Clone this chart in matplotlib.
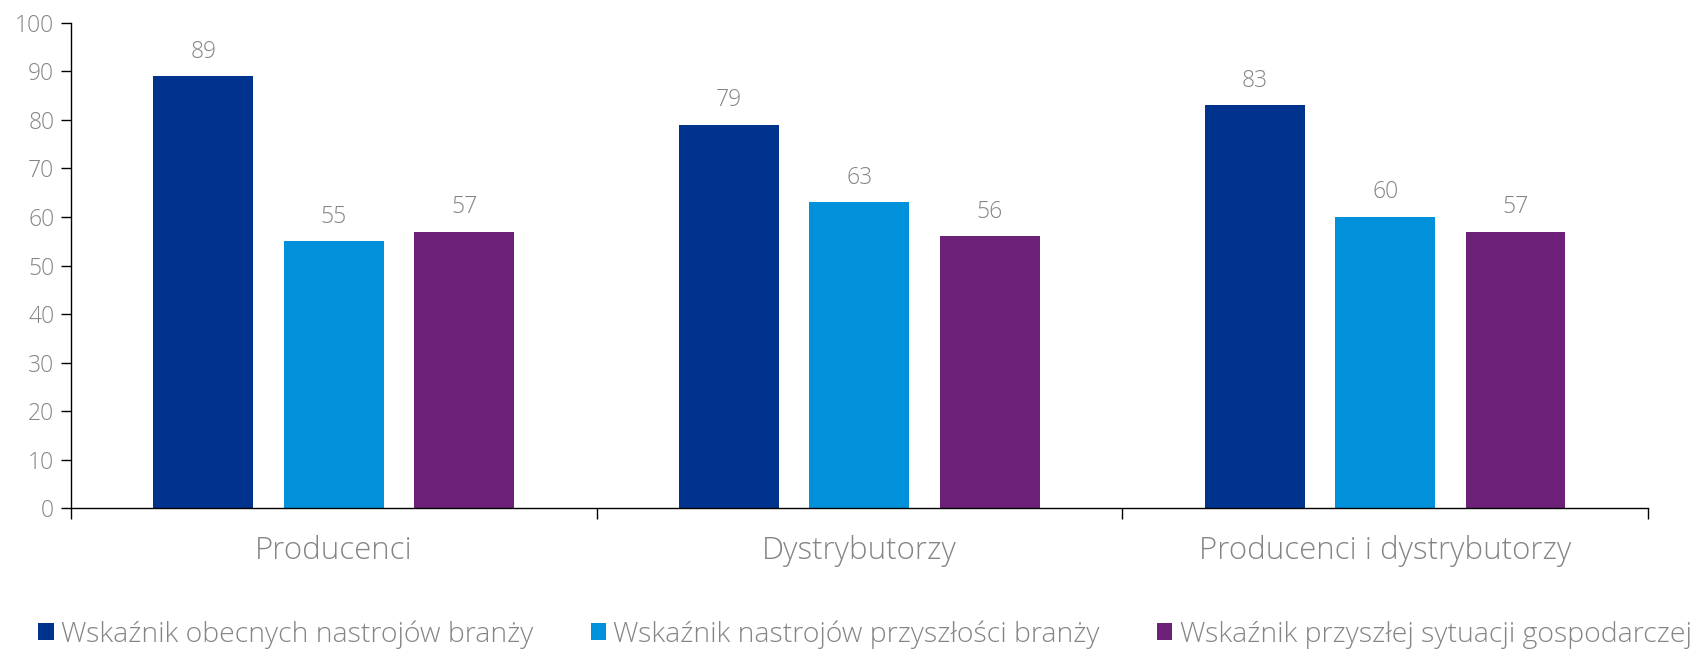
import matplotlib
matplotlib.use("Agg")
import matplotlib.pyplot as plt
import numpy as np

categories = ["Producenci", "Dystrybutorzy", "Producenci i dystrybutorzy"]
series_names = ["Wskaźnik obecnych nastrojów branży",
                "Wskaźnik nastrojów przyszłości branży",
                "Wskaźnik przyszłej sytuacji gospodarczej"]
obecne = [89, 79, 83]
przyszlosc = [55, 63, 60]
gospodarka = [57, 56, 57]
yticks = [0, 10, 20, 30, 40, 50, 60, 70, 80, 90, 100]

colors = ["#00338D", "#0091DA", "#6D2077"]
gray = "#858585"
plt.rcParams['font.family'] = ['Open Sans', 'DejaVu Sans']
W = "light"

fig = plt.figure(figsize=(17.06, 6.5), dpi=100)
ax = fig.add_axes([0.0415, 0.218, 0.9245, 0.747])

x = np.arange(len(categories))
width = 0.19
step = 0.248
for i, (vals, c, name) in enumerate(zip([obecne, przyszlosc, gospodarka], colors, series_names)):
    pos = x + (i - 1) * step
    ax.bar(pos, vals, width, color=c, label=name)
    for p, v in zip(pos, vals):
        ax.annotate(str(v), (p, v), xytext=(0, 9), textcoords="offset points",
                    ha="center", va="bottom", fontsize=16.5, color=gray, fontweight=W)

ax.set_xlim(-0.5, 2.5)
ax.set_ylim(0, 100)
ax.set_yticks(yticks)
ax.set_yticklabels([str(t) for t in yticks])
ax.tick_params(axis="y", labelsize=16.5, labelcolor=gray, length=7, width=1, direction="out", pad=5)

ax.set_xticks([-0.5, 0.5, 1.5, 2.5])
ax.set_xticklabels([])
ax.tick_params(axis="x", which="major", length=8, width=1, direction="out")
ax.set_xticks(x, minor=True)
ax.set_xticklabels(categories, minor=True)
ax.tick_params(axis="x", which="minor", length=0, labelsize=22.5, labelcolor=gray, pad=19)
for lbl in ax.get_xticklabels(minor=True) + ax.get_yticklabels():
    lbl.set_fontweight(W)

for s in ["top", "right"]:
    ax.spines[s].set_visible(False)
ax.spines["left"].set_linewidth(1)
ax.spines["bottom"].set_linewidth(1)

leg = fig.legend(loc="center", bbox_to_anchor=(0.507, 0.024), ncol=3, frameon=False,
                 fontsize=20.5, handlelength=0.55, handleheight=0.55, handletextpad=0.25,
                 columnspacing=2.0)
for t in leg.get_texts():
    t.set_color(gray)
    t.set_fontweight(W)

fig.savefig("out.png", dpi=100)
